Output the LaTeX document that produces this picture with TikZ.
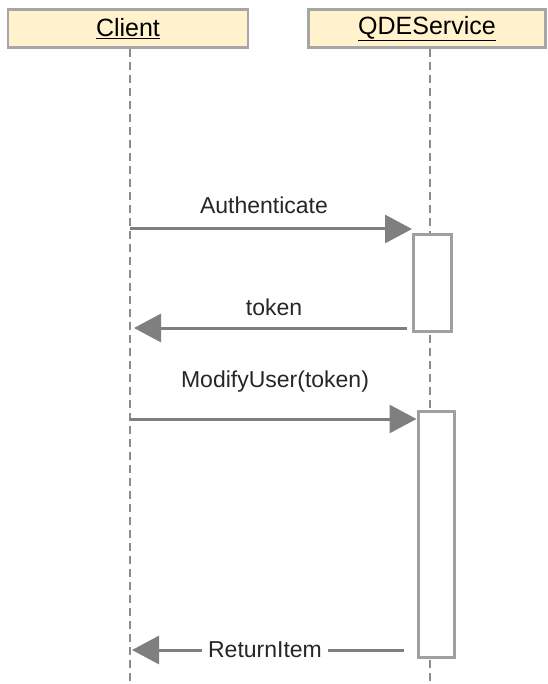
\documentclass[tikz,border=0pt]{standalone}
\usepackage{fontspec}
\setmainfont{Liberation Sans}
\usetikzlibrary{arrows.meta}
\definecolor{hdrfill}{HTML}{FFF2CC}
\definecolor{hdrline}{HTML}{A6A6A6}
\definecolor{lnc}{HTML}{7F7F7F}
\definecolor{actline}{HTML}{A0A0A0}
\tikzset{
  hdr/.style={draw=hdrline, line width=2.5pt, fill=hdrfill, minimum height=38pt, inner sep=0pt, font=\fontsize{25}{29}\selectfont},
  life/.style={draw=lnc!90, line width=2pt, dash pattern=on 8pt off 5pt},
  act/.style={draw=actline, line width=3pt, fill=white, inner sep=0pt},
  msg/.style={draw=lnc, line width=3pt, -{Triangle[length=27pt,width=28pt]}},
  lbl/.style={font=\fontsize{23}{27}\selectfont, text=black!85, inner sep=2pt}
}
\begin{document}
\begin{tikzpicture}[x=1pt,y=-1pt]
\useasboundingbox (0,0) rectangle (547,684);
% headers
\node[hdr, minimum width=240pt] (client) at (128,28.5) {\underline{Client}};
\node[hdr, minimum width=237pt] (qde) at (427,28.5) {\underline{QDEService}};
% lifelines
\coordinate (cb) at (130,684);
\coordinate (qb) at (430,684);
\draw[life] (client.south -| cb) -- (cb);
\draw[life] (qde.south -| qb) -- (qb);
% activations
\node[act, minimum width=38pt, minimum height=96pt] (act1) at (432.5,283) {};
\node[act, minimum width=36pt, minimum height=246pt] (act2) at (436,534) {};
% messages
\coordinate (m1) at (130,229);
\draw[msg] (m1) -- (act1.west |- m1);
\node[lbl] (l1) at (264,205) {Authenticate};
\coordinate (m2) at (134,328);
\draw[msg] (act1.south west |- m2) ++(-5,0) -- (m2);
\node[lbl] (l2) at (274,307) {token};
\coordinate (m3) at (130,419);
\draw[msg] (m3) -- (act2.west |- m3);
\node[lbl] (l3) at (275,382) {ModifyUser(token)};
\coordinate (m4) at (132,650);
\coordinate (m4s) at (404,650);
\draw[msg] (m4s) -- (m4) node[lbl, midway, fill=white, inner xsep=6pt, xshift=-3pt] (l4) {ReturnItem};
\end{tikzpicture}
\end{document}
